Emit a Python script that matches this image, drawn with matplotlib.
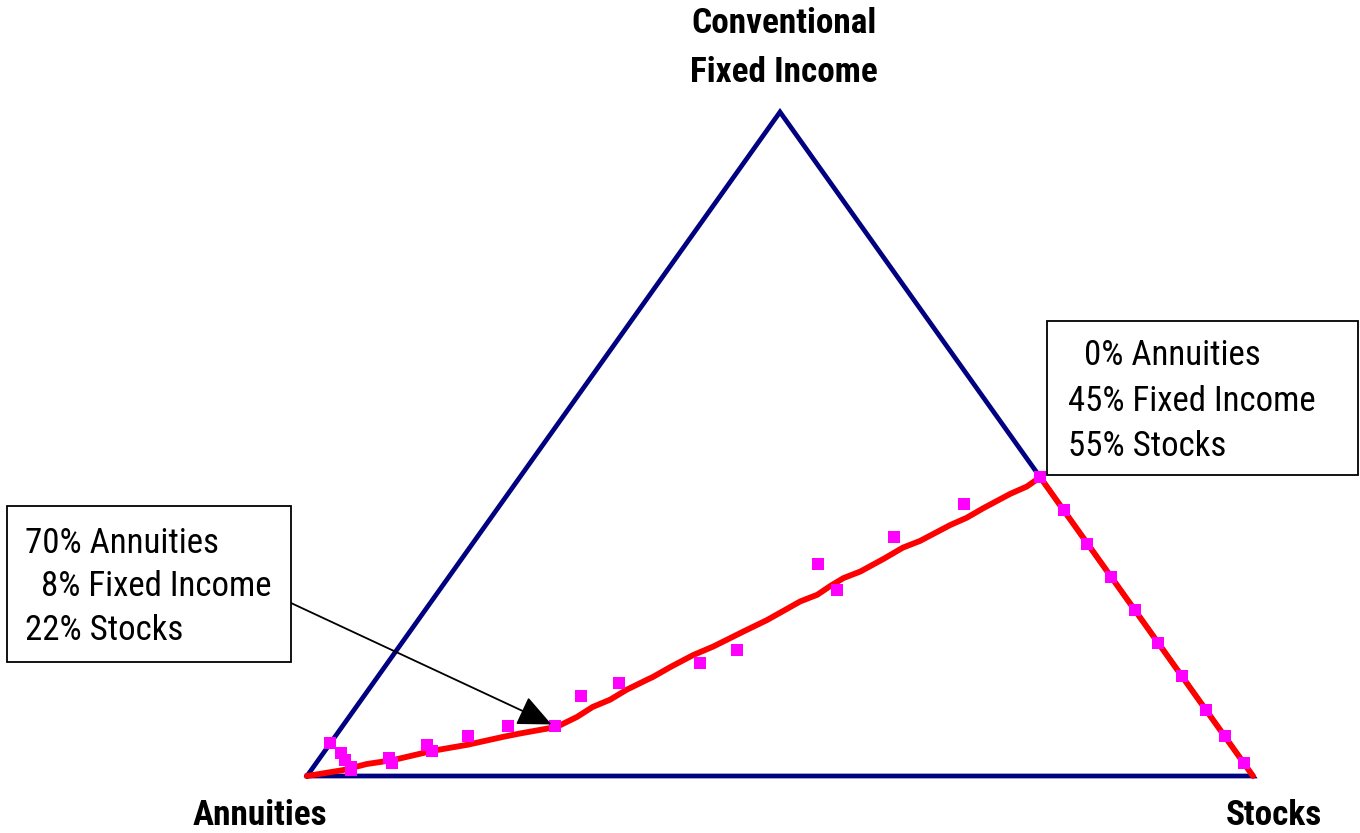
import matplotlib
matplotlib.use("Agg")
import matplotlib.pyplot as plt
from matplotlib.patches import Rectangle
from matplotlib import font_manager as fm

# ---- data (percent of portfolio) ----
corner_labels = ["Annuities", "Conventional\nFixed Income", "Stocks"]

# efficient path (red line): fixed income % and stocks %, annuities = rest
line_fixed = [0, 0.9, 1.8, 2.4, 3.8, 4.7, 5.9, 6.4, 7.4, 8.9, 10.4, 11.5, 13.0,
              14.5, 14.9, 16.4, 18.2, 19.5, 21.7, 23.5, 26.3, 27.3, 28.6, 29.8,
              30.8, 32.7, 34.4, 35.4, 37.8, 38.9, 40.3, 42.5, 43.6, 45.0, 0]
line_stocks = [0, 3.4, 5.4, 7.9, 11.4, 14.6, 17.8, 19.3, 22.7, 24.1, 25.0, 26.3,
               27.3, 28.7, 29.1, 30.2, 31.7, 33.2, 35.2, 36.9, 39.0, 40.3, 41.0,
               41.8, 43.1, 44.6, 45.8, 47.1, 49.1, 50.3, 51.3, 53.1, 54.3, 55.0, 100]

# optimal allocations (magenta squares)
pts_fixed = [45, 40, 35, 30, 25, 20, 15, 10, 6, 2,
             41, 36, 32, 28, 19, 17, 14, 12, 7.5, 7.5, 6, 4.7, 3.8, 2.7, 2.0,
             4.9, 3.5, 2.4, 1.4, 0.9]
pts_stocks = [55, 60, 65, 70, 75, 80, 85, 90, 94, 98,
              49, 44, 38, 42, 36, 33, 26, 23, 22.5, 17.5, 14, 10.3, 11.3, 7.3, 8.0,
              0, 1.8, 2.8, 3.9, 4.2]

box_left_lines = ["70% Annuities", "  8% Fixed Income", "22% Stocks"]
box_right_lines = ["  0% Annuities", "45% Fixed Income", "55% Stocks"]
arrow_marker = (7.5, 22.5)   # fixed, stocks of the annotated allocation


def tern(fixed, stocks):
    xs = [s / 100 + f / 200 for f, s in zip(fixed, stocks)]
    ys = [f / 100 for f in fixed]
    return xs, ys


available = {f.name for f in fm.fontManager.ttflist}
FONT = None
for cand in ["Liberation Sans Narrow", "Arial Narrow", "Roboto Condensed",
             "Archivo Narrow", "PT Sans Narrow", "Pragati Narrow",
             "IBM Plex Sans Condensed"]:
    if cand in available:
        FONT = cand
        break
FAM = [FONT, "DejaVu Sans"] if FONT else ["DejaVu Sans"]

W, H = 1360, 833
fig = plt.figure(figsize=(W / 100, H / 100), dpi=100)
fig.patch.set_facecolor("white")

ax = fig.add_axes([307 / W, 57 / H, 946 / W, 664 / H])
ax.set_xlim(0, 1)
ax.set_ylim(0, 1)
ax.axis("off")

# triangle
ax.plot([0, 1, 0.5, 0], [0, 0, 1, 0], color="#000080", lw=3.4,
        solid_joinstyle="miter", clip_on=False, zorder=1)

# red path
lx, ly = tern(line_fixed, line_stocks)
ax.plot(lx, ly, color="#ff0000", lw=4.2, clip_on=False, zorder=2,
        solid_capstyle="round", solid_joinstyle="round")

# magenta markers
px, py = tern(pts_fixed, pts_stocks)
ax.plot(px, py, ls="none", marker="s", ms=8.5, color="#ff00ff",
        markeredgewidth=0, clip_on=False, zorder=3)


def fxy(x, y):
    return x / W, 1 - y / H


renderer = fig.canvas.get_renderer()


def fit(texts, ref_text, target_w):
    """scale a group of texts so ref_text has target pixel width"""
    ext = ref_text.get_window_extent(renderer)
    k = target_w / ext.width
    for t in texts:
        t.set_fontsize(t.get_fontsize() * k)


# corner labels
tf = dict(family=FAM, fontweight="bold", fontsize=26, color="black")
t1 = fig.text(*fxy(784, 33), "Conventional", ha="center", va="baseline", **tf)
t2 = fig.text(*fxy(784, 82), "Fixed Income", ha="center", va="baseline", **tf)
t3 = fig.text(*fxy(260, 825), corner_labels[0], ha="center", va="baseline", **tf)
t4 = fig.text(*fxy(1274, 825), corner_labels[2], ha="center", va="baseline", **tf)
fit([t1, t2, t3, t4], t1, 185)

# boxes
for (x0, y0, x1, y1) in [(7, 506, 291, 662), (1047, 321, 1358, 475)]:
    fig.patches.append(Rectangle(fxy(x0, y1), (x1 - x0) / W, (y1 - y0) / H,
                                 transform=fig.transFigure, fill=True,
                                 facecolor="white", edgecolor="black", lw=1.3,
                                 zorder=5))

bf = dict(family=FAM, fontsize=26.5, color="black", zorder=6)
btexts = []
for i, s in enumerate(box_left_lines):
    btexts.append(fig.text(*fxy(25, 553 + i * 43.5), s, ha="left",
                           va="baseline", **bf))
for i, s in enumerate(box_right_lines):
    btexts.append(fig.text(*fxy(1068, 365 + i * 45.7), s, ha="left",
                           va="baseline", **bf))
fit(btexts, btexts[0], 194)

# arrow
mx, my = tern([arrow_marker[0]], [arrow_marker[1]])
ax.annotate("", xy=(mx[0], my[0]), xycoords="data",
            xytext=(291, H - 603), textcoords="figure pixels",
            arrowprops=dict(arrowstyle="-|>,head_length=1.0,head_width=0.45",
                            mutation_scale=21, color="black", lw=1.3,
                            shrinkA=0, shrinkB=3),
            zorder=4, annotation_clip=False)

fig.savefig("out.png", dpi=100, facecolor="white")
